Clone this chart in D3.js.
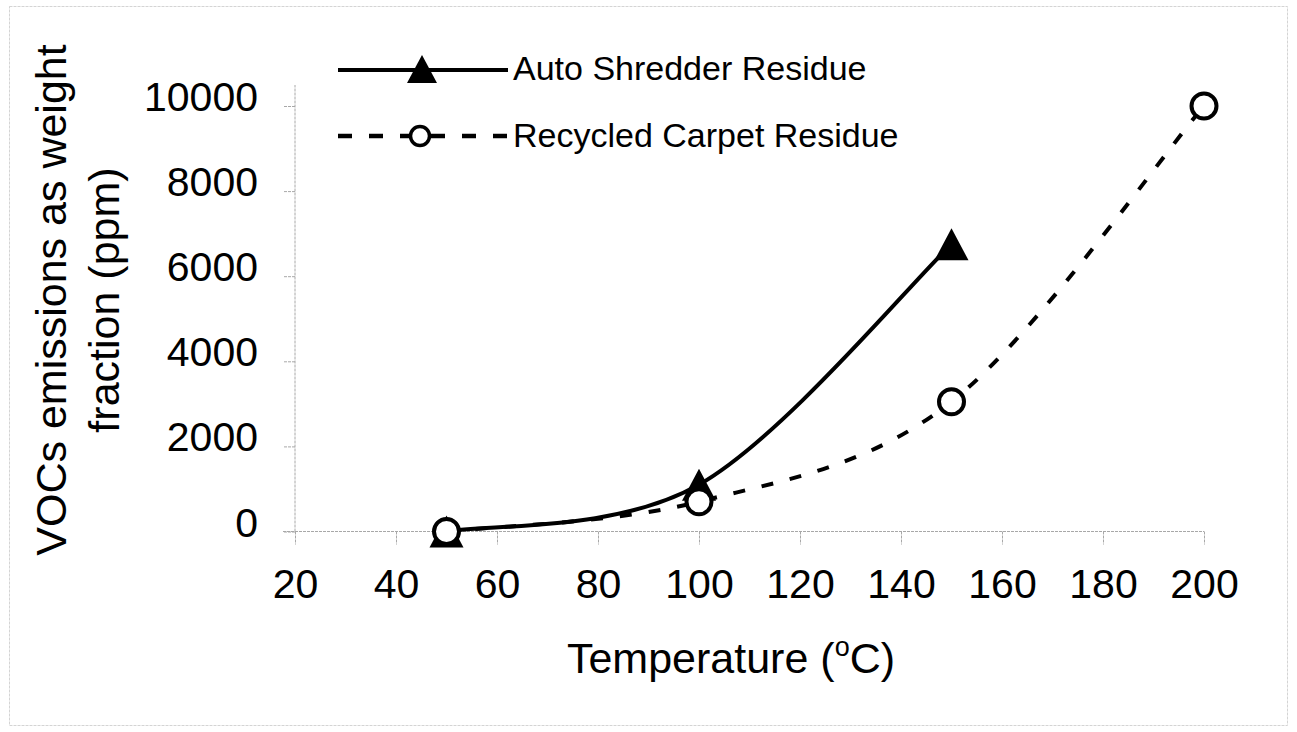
<!DOCTYPE html>
<html>
<head>
<meta charset="utf-8">
<script src="https://cdn.jsdelivr.net/npm/d3@7"></script>
<style>
  html, body { margin: 0; padding: 0; background: #fff; }
  svg { display: block; }
  text { font-family: "Liberation Sans", Arial, sans-serif; fill: #000; }
</style>
</head>
<body>
<svg id="chart" width="1297" height="732"></svg>
<script>
// ---- data ----
const temperatures = [50, 100, 150, 200];
const autoShredderResidue = [0, 1100, 6750];          // at 50, 100, 150 °C
const recycledCarpetResidue = [0, 700, 3050, 10000];  // at 50, 100, 150, 200 °C
const seriesNames = ["Auto Shredder Residue", "Recycled Carpet Residue"];
const xTickValues = [20, 40, 60, 80, 100, 120, 140, 160, 180, 200];
const yTickValues = [0, 2000, 4000, 6000, 8000, 10000];
const xTitle = "Temperature (";
const xTitleSup = "o";
const xTitleEnd = "C)";
const yTitleLines = ["VOCs emissions as weight", "fraction (ppm)"];

// ---- layout ----
const svg = d3.select("#chart");
const W = 1297, H = 732;

// faint figure frame
svg.append("rect")
  .attr("x", 9.5).attr("y", 6.5).attr("width", W - 19).attr("height", H - 13)
  .attr("fill", "none").attr("stroke", "#d4d4d4").attr("stroke-width", 1)
  .attr("stroke-dasharray", "3,1");

const x = d3.scaleLinear().domain([20, 200]).range([295, 1204]);
const y = d3.scaleLinear().domain([0, 10000]).range([531.5, 106]);

const axisColor = "#a8a8a8";

// y axis
const yAxis = svg.append("g")
  .attr("transform", `translate(${x(20)},0)`)
  .call(d3.axisLeft(y).tickValues(yTickValues).tickSize(12).tickPadding(25)
        .tickFormat(d3.format("d")));
yAxis.select(".domain").remove();
yAxis.append("line")
  .attr("x1", 0).attr("x2", 0).attr("y1", y(0)).attr("y2", 85)
  .attr("stroke", axisColor).attr("stroke-dasharray", "3,1");
yAxis.selectAll(".tick line").attr("stroke", axisColor).attr("stroke-dasharray", "3,1");
yAxis.selectAll(".tick text")
  .attr("font-size", 41).attr("dy", "0.11em")
  .style("font-family", "'Liberation Sans', Arial, sans-serif").attr("fill", "#000");

// x axis
const xAxis = svg.append("g")
  .attr("transform", `translate(0,${y(0)})`)
  .call(d3.axisBottom(x).tickValues(xTickValues).tickSize(13).tickPadding(24)
        .tickFormat(d3.format("d")));
xAxis.select(".domain").remove();
xAxis.append("line")
  .attr("x1", 283).attr("x2", x(200)).attr("y1", 0).attr("y2", 0)
  .attr("stroke", axisColor).attr("stroke-dasharray", "3,1");
xAxis.selectAll(".tick line").attr("stroke", axisColor).attr("stroke-dasharray", "3,1");
xAxis.selectAll(".tick text")
  .attr("font-size", 41)
  .style("font-family", "'Liberation Sans', Arial, sans-serif").attr("fill", "#000");

// axis titles
const xt = svg.append("text")
  .attr("x", 731).attr("y", 673).attr("text-anchor", "middle").attr("font-size", 43);
xt.append("tspan").text(xTitle);
xt.append("tspan").attr("font-size", 27).attr("dy", -17).text(xTitleSup);
xt.append("tspan").attr("dy", 17).text(xTitleEnd);

const yt = svg.append("g").attr("transform", "translate(0,300) rotate(-90)");
yt.append("text").attr("x", 0).attr("y", 66).attr("text-anchor", "middle")
  .attr("font-size", 43).text(yTitleLines[0]);
yt.append("text").attr("x", 0).attr("y", 119).attr("text-anchor", "middle")
  .attr("font-size", 43).text(yTitleLines[1]);

// ---- series ----
const asrData = autoShredderResidue.map((v, i) => [temperatures[i], v]);
const rcrData = recycledCarpetResidue.map((v, i) => [temperatures[i], v]);

// Excel-style smoothed line (Catmull-Rom Bezier with duplicated end points)
function excelSmooth(context) {
  let pts = [];
  return {
    areaStart() {}, areaEnd() {},
    lineStart() { pts = []; },
    point(px, py) { pts.push([+px, +py]); },
    lineEnd() {
      const n = pts.length;
      if (!n) return;
      context.moveTo(pts[0][0], pts[0][1]);
      for (let i = 0; i < n - 1; i++) {
        const p0 = pts[Math.max(0, i - 1)], p1 = pts[i], p2 = pts[i + 1], p3 = pts[Math.min(n - 1, i + 2)];
        context.bezierCurveTo(
          p1[0] + (p2[0] - p0[0]) / 6, p1[1] + (p2[1] - p0[1]) / 6,
          p2[0] - (p3[0] - p1[0]) / 6, p2[1] - (p3[1] - p1[1]) / 6,
          p2[0], p2[1]);
      }
    }
  };
}

const line = d3.line().x(d => x(d[0])).y(d => y(d[1])).curve(excelSmooth);

svg.append("path").datum(asrData)
  .attr("d", line).attr("fill", "none").attr("stroke", "#000").attr("stroke-width", 4);
svg.append("path").datum(rcrData)
  .attr("d", line).attr("fill", "none").attr("stroke", "#000").attr("stroke-width", 4)
  .attr("stroke-dasharray", "12,17");

function triPath(w, h) {
  return `M0,${-h/2}L${w/2},${h/2}L${-w/2},${h/2}Z`;
}

svg.selectAll(".tri").data(asrData).enter().append("path")
  .attr("class", "tri")
  .attr("transform", d => `translate(${x(d[0])},${y(d[1])})`)
  .attr("d", triPath(34, 32)).attr("fill", "#000");

svg.selectAll(".circ").data(rcrData).enter().append("circle")
  .attr("class", "circ")
  .attr("cx", d => x(d[0])).attr("cy", d => y(d[1])).attr("r", 12.5)
  .attr("fill", "#fff").attr("stroke", "#000").attr("stroke-width", 4);

// ---- legend ----
const lg = svg.append("g");
lg.append("line").attr("x1", 338).attr("x2", 508).attr("y1", 70).attr("y2", 70)
  .attr("stroke", "#000").attr("stroke-width", 4);
lg.append("path").attr("transform", "translate(422,69)").attr("d", triPath(30, 28)).attr("fill", "#000");
lg.append("text").attr("x", 513).attr("y", 80).attr("font-size", 34).text(seriesNames[0]);

lg.append("line").attr("x1", 338).attr("x2", 508).attr("y1", 136).attr("y2", 136)
  .attr("stroke", "#000").attr("stroke-width", 4.5).attr("stroke-dasharray", "14,17");
lg.append("circle").attr("cx", 420).attr("cy", 136).attr("r", 9.5)
  .attr("fill", "#fff").attr("stroke", "#000").attr("stroke-width", 3.5);
lg.append("text").attr("x", 513).attr("y", 147).attr("font-size", 34).text(seriesNames[1]);
</script>
</body>
</html>
